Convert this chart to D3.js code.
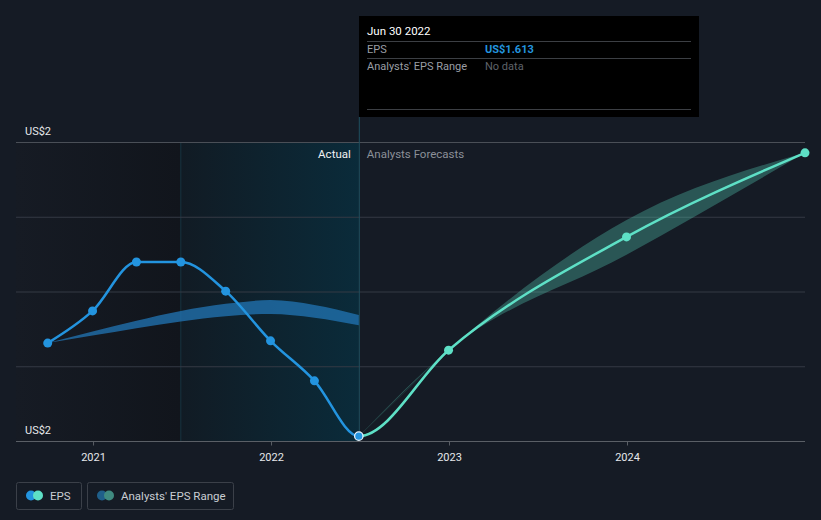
<!DOCTYPE html>
<html><head><meta charset="utf-8">
<script src="https://cdn.jsdelivr.net/npm/d3@7"></script>
<style>
html,body{margin:0;padding:0;background:#151b25;}
svg{display:block;font-family:Roboto, "Noto Sans", sans-serif;}
</style></head>
<body><svg id="c" width="821" height="520"></svg>
<script>
// ---- data ----
const actualDates = ["2020-09-30","2020-12-31","2021-03-31","2021-06-30","2021-09-30","2021-12-31","2022-03-31","2022-06-30"];
const actualEPS   = [1.862, 1.948, 2.079, 2.079, 2.001, 1.868, 1.761, 1.613];
const forecastDates = ["2022-06-30","2022-12-31","2023-12-31","2024-12-31"];
const forecastEPS   = [1.613, 1.843, 2.146, 2.371];
const forecastLow   = [1.613, 1.843, 2.098, 2.371];
const forecastHigh  = [1.613, 1.843, 2.191, 2.371];
const pastRangeDates = ["2020-09-30","2020-12-31","2021-03-31","2021-06-30","2021-09-30","2021-12-31","2022-03-31","2022-06-30"];
const pastRangeLow   = [1.862, 1.882, 1.902, 1.920, 1.934, 1.940, 1.930, 1.910];
const pastRangeHigh  = [1.862, 1.893, 1.922, 1.948, 1.967, 1.977, 1.964, 1.937];
const yTicks = [1.6, 1.8, 2.0, 2.2, 2.4];
const yLabelTicks = [1.6, 2.4];
const xTickYears = [2021, 2022, 2023, 2024];
const tooltipDate = "Jun 30 2022";
const tooltipEPS = "US$1.613";

const parse = d3.timeParse("%Y-%m-%d");
const svg = d3.select("#c");
const W = 821, H = 520;
const x = d3.scaleTime().domain([parse("2020-07-27"), parse("2024-12-31")]).range([16, 805]);
const y = d3.scaleLinear().domain([1.6, 2.4]).range([441, 142]);
const lastActual = parse("2022-06-30");
const oneYearBefore = parse("2021-06-30");

const defs = svg.append("defs");
const g1 = defs.append("linearGradient").attr("id","gPast").attr("x1","0").attr("x2","1");
g1.append("stop").attr("offset","0").attr("stop-color","#161b24");
g1.append("stop").attr("offset","1").attr("stop-color","#11151c");
const g2 = defs.append("linearGradient").attr("id","gAct").attr("x1","0").attr("x2","1");
g2.append("stop").attr("offset","0").attr("stop-color","#111b24");
g2.append("stop").attr("offset","1").attr("stop-color","#0a2b3a");
defs.append("clipPath").attr("id","clipL").append("rect")
  .attr("x",0).attr("y",0).attr("width",x(lastActual)).attr("height",H);
defs.append("clipPath").attr("id","clipR").append("rect")
  .attr("x",x(lastActual)).attr("y",0).attr("width",W-x(lastActual)).attr("height",H);

svg.append("rect").attr("width",W).attr("height",H).attr("fill","#151b25");

svg.append("rect").attr("x", x.range()[0]).attr("y", y(2.4))
  .attr("width", x(oneYearBefore)-x.range()[0]).attr("height", y(1.6)-y(2.4)).attr("fill","url(#gPast)");
svg.append("rect").attr("x", x(oneYearBefore)).attr("y", y(2.4))
  .attr("width", x(lastActual)-x(oneYearBefore)).attr("height", y(1.6)-y(2.4)).attr("fill","url(#gAct)");
svg.append("line").attr("x1",x(oneYearBefore)).attr("x2",x(oneYearBefore)).attr("y1",y(2.4)).attr("y2",y(1.6))
  .attr("stroke","#173441").attr("stroke-width",1);

// gridlines
svg.append("g").selectAll("line").data(yTicks).join("line")
  .attr("x1",16).attr("x2",805).attr("y1",d=>y(d)+0.5).attr("y2",d=>y(d)+0.5)
  .attr("stroke",(d,i)=> i===0 ? "#5a5f66" : (d===2.4 ? "#4a4f57" : "#343a44")).attr("stroke-width",1);

// y labels
svg.append("g").selectAll("text").data(yLabelTicks).join("text")
  .attr("x",25).attr("y",d=>y(d)-7)
  .attr("fill","#e6e8eb").attr("font-size",11)
  .text(d=>"US$"+d3.format(".0f")(d));

// x axis
const xAxis = d3.axisBottom(x).tickValues(xTickYears.map(v=>new Date(v,0,1)))
  .tickFormat(d3.timeFormat("%Y")).tickSize(4).tickPadding(8);
const ax = svg.append("g").attr("transform","translate(0,441.5)").call(xAxis);
ax.select(".domain").remove();
ax.selectAll(".tick line").attr("stroke","#5a5f66");
ax.selectAll(".tick text").attr("fill","#e6e8eb").attr("font-size",11).attr("font-family","Roboto, sans-serif");

// vertical divider at last actual
svg.append("line").attr("x1",x(lastActual)+0.5).attr("x2",x(lastActual)+0.5).attr("y1",117).attr("y2",441)
  .attr("stroke","#1f4f60").attr("stroke-width",1);

// labels
svg.append("text").attr("x",x(lastActual)-8).attr("y",158).attr("text-anchor","end")
  .attr("fill","#f0f2f4").attr("font-size",11.5).text("Actual");
svg.append("text").attr("x",x(lastActual)+8).attr("y",158)
  .attr("fill","#8b9098").attr("font-size",11.5).text("Analysts Forecasts");

// past analyst range band
const pastBand = pastRangeDates.map((d,i)=>({d:parse(d), lo:pastRangeLow[i], hi:pastRangeHigh[i]}));
svg.append("path").datum(pastBand)
  .attr("d", d3.area().curve(d3.curveMonotoneX).x(p=>x(p.d)).y0(p=>y(p.lo)).y1(p=>y(p.hi)))
  .attr("fill","#2176b5").attr("fill-opacity",0.75);

// forecast band
const fBand = forecastDates.map((d,i)=>({d:parse(d), lo:forecastLow[i], hi:forecastHigh[i]}));
svg.append("path").datum(fBand)
  .attr("d", d3.area().curve(d3.curveMonotoneX).x(p=>x(p.d)).y0(p=>y(p.lo)).y1(p=>y(p.hi)))
  .attr("fill","#5ee0c6").attr("fill-opacity",0.3);
svg.append("line").attr("x1",x(parse(forecastDates[0]))).attr("y1",y(forecastEPS[0]))
  .attr("x2",x(parse(forecastDates[1]))).attr("y2",y(forecastEPS[1]))
  .attr("stroke","#5ee0c6").attr("stroke-opacity",0.1).attr("stroke-width",1);

// combined EPS line (actual + forecast) as one monotone curve, coloured by segment
const aData = actualDates.map((d,i)=>({d:parse(d), v:actualEPS[i]}));
const fData = forecastDates.map((d,i)=>({d:parse(d), v:forecastEPS[i]}));
const combined = aData.concat(fData.slice(1));
const lineGen = d3.line().curve(d3.curveMonotoneX).x(p=>x(p.d)).y(p=>y(p.v));
svg.append("path").datum(combined).attr("d", lineGen).attr("clip-path","url(#clipR)")
  .attr("fill","none").attr("stroke","#5ee0c6").attr("stroke-width",2.5);
svg.append("path").datum(combined).attr("d", lineGen).attr("clip-path","url(#clipL)")
  .attr("fill","none").attr("stroke","#2394df").attr("stroke-width",2.5);

svg.append("g").selectAll("circle").data(fData.slice(1)).join("circle")
  .attr("cx",p=>x(p.d)).attr("cy",p=>y(p.v)).attr("r",4.5).attr("fill","#5ee0c6");
svg.append("g").selectAll("circle").data(aData.slice(0,-1)).join("circle")
  .attr("cx",p=>x(p.d)).attr("cy",p=>y(p.v)).attr("r",4.5).attr("fill","#2394df");
const last = aData[aData.length-1];
svg.append("circle").attr("cx",x(last.d)).attr("cy",y(last.v)).attr("r",4.2)
  .attr("fill","#2394df").attr("stroke","#e8f4ff").attr("stroke-width",1.3);

// tooltip
const tt = svg.append("g");
tt.append("rect").attr("x",359).attr("y",16).attr("width",340).attr("height",101).attr("fill","#000");
tt.append("text").attr("x",367).attr("y",35).attr("fill","#ffffff").attr("font-size",11.5).text(tooltipDate);
[41.5,58.5,109.5].forEach(yy=>tt.append("line").attr("x1",367).attr("x2",691).attr("y1",yy).attr("y2",yy)
  .attr("stroke","#3c3f44").attr("stroke-width",1));
tt.append("text").attr("x",367).attr("y",53).attr("fill","#9a9ea5").attr("font-size",11).text("EPS");
tt.append("text").attr("x",485).attr("y",53).attr("fill","#2394df").attr("font-size",11).attr("font-weight","bold").text(tooltipEPS);
tt.append("text").attr("x",367).attr("y",70).attr("fill","#9a9ea5").attr("font-size",11).text("Analysts' EPS Range");
tt.append("text").attr("x",485).attr("y",70).attr("fill","#5f636a").attr("font-size",11).text("No data");

// legend
const legend = [
  {label:"EPS", x:16, w:65, c1:"#2394df", c2:"#5ee0c6"},
  {label:"Analysts' EPS Range", x:87, w:146, c1:"#1f5f8a", c2:"#3f8a80"}
];
const lg = svg.append("g").selectAll("g").data(legend).join("g");
lg.append("rect").attr("x",d=>d.x+0.5).attr("y",482.5).attr("width",d=>d.w).attr("height",27).attr("rx",2)
  .attr("fill","none").attr("stroke","#3b4049");
lg.append("circle").attr("cx",d=>d.x+15).attr("cy",495.5).attr("r",5).attr("fill",d=>d.c1);
lg.append("circle").attr("cx",d=>d.x+22).attr("cy",495.5).attr("r",5).attr("fill",d=>d.c2);
lg.append("text").attr("x",d=>d.x+34).attr("y",499.5).attr("fill","#c9cdd3").attr("font-size",11.5).text(d=>d.label);
</script></body></html>
